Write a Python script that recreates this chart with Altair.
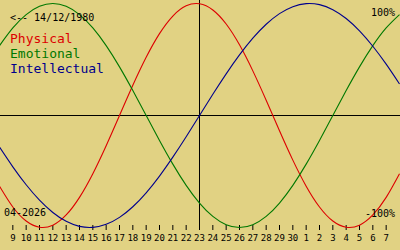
import altair as alt
import pandas as pd

# ---- data -------------------------------------------------------------
series_names = ["Physical", "Emotional", "Intellectual"]
series_colors = ["#dd0000", "#007800", "#00008c"]

# day offsets from the centre day (23) ; -15 = Apr 8 ... 15 = May 8
day_offsets = [-15, -14, -13, -12, -11, -10, -9, -8, -7, -6, -5, -4, -3, -2, -1,
               0, 1, 2, 3, 4, 5, 6, 7, 8, 9, 10, 11, 12, 13, 14, 15]

physical = [-0.6311, -0.8170, -0.9423, -0.9977, -0.9791, -0.8879, -0.7308, -0.5196,
            -0.2698, 0.0, 0.2698, 0.5196, 0.7308, 0.8879, 0.9791, 0.9977, 0.9423,
            0.8170, 0.6311, 0.3984, 0.1362, -0.1362, -0.3984, -0.6311, -0.8170,
            -0.9423, -0.9977, -0.9791, -0.8879, -0.7308, -0.5196]

emotional = [0.6235, 0.7818, 0.9010, 0.9749, 1.0, 0.9749, 0.9010, 0.7818, 0.6235,
             0.4339, 0.2225, 0.0, -0.2225, -0.4339, -0.6235, -0.7818, -0.9010,
             -0.9749, -1.0, -0.9749, -0.9010, -0.7818, -0.6235, -0.4339, -0.2225,
             0.0, 0.2225, 0.4339, 0.6235, 0.7818, 0.9010]

intellectual = [-0.2817, -0.4582, -0.6182, -0.7557, -0.8660, -0.9450, -0.9898,
                -0.9989, -0.9718, -0.9096, -0.8146, -0.6901, -0.5406, -0.3717,
                -0.1893, 0.0, 0.1893, 0.3717, 0.5406, 0.6901, 0.8146, 0.9096,
                0.9718, 0.9989, 0.9898, 0.9450, 0.8660, 0.7557, 0.6182, 0.4582,
                0.2817]

tick_offsets = [-14, -13, -12, -11, -10, -9, -8, -7, -6, -5, -4, -3, -2, -1, 0,
                1, 2, 3, 4, 5, 6, 7, 8, 9, 10, 11, 12, 13, 14]
tick_labels = ["9", "10", "11", "12", "13", "14", "15", "16", "17", "18", "19",
               "20", "21", "22", "23", "24", "25", "26", "27", "28", "29", "30",
               "1", "2", "3", "4", "5", "6", "7"]

birth_text = "<-- 14/12/1980"
month_text = "04-2026"
top_text = "100%"
bottom_text = "-100%"

# ---- tables -------------------------------------------------------------
rows = []
for name, vals in zip(series_names, [physical, emotional, intellectual]):
    for d, v in zip(day_offsets, vals):
        rows.append({"d": d, "v": v, "series": name})
df = pd.DataFrame(rows)
ticks_df = pd.DataFrame({"d": tick_offsets, "label": tick_labels})

BG = "#e1d283"
FONT = "DejaVu Sans Mono"

x_scale = alt.Scale(domain=[-14.9625, 15.0375], nice=False, zero=False)
y_scale = alt.Scale(domain=[-1.20089, 1.03125], nice=False, zero=False)

lines = alt.Chart(df).mark_line(strokeWidth=1.1, interpolate="natural").encode(
    x=alt.X("d:Q", scale=x_scale, axis=None),
    y=alt.Y("v:Q", scale=y_scale, axis=None),
    color=alt.Color("series:N",
                    scale=alt.Scale(domain=series_names, range=series_colors),
                    legend=None),
)

tick_marks = alt.Chart(ticks_df).mark_rule(color="black", strokeWidth=1).encode(
    x=alt.X("d:Q", scale=x_scale, axis=None),
    y=alt.value(225), y2=alt.value(230),
)
tick_text = alt.Chart(ticks_df).mark_text(
    font=FONT, fontSize=9, color="black", align="center", baseline="alphabetic"
).encode(
    x=alt.X("d:Q", scale=x_scale, axis=None),
    y=alt.value(241),
    text="label:N",
)

vrule = alt.Chart(pd.DataFrame({"d": [0]})).mark_rule(color="black", strokeWidth=1).encode(
    x=alt.X("d:Q", scale=x_scale, axis=None), y=alt.value(0), y2=alt.value(230))
hrule = alt.Chart(pd.DataFrame({"v": [0]})).mark_rule(color="black", strokeWidth=1).encode(
    y=alt.Y("v:Q", scale=y_scale, axis=None), x=alt.value(0), x2=alt.value(400))

def txt(t, x, y, size, color="black", align="left"):
    return alt.Chart(pd.DataFrame({"t": [t]})).mark_text(
        font=FONT, fontSize=size, color=color, align=align, baseline="alphabetic"
    ).encode(x=alt.value(x), y=alt.value(y), text="t:N")

texts = [
    txt(birth_text, 10, 21, 10),
    txt(series_names[0], 10, 42.5, 13, series_colors[0]),
    txt(series_names[1], 10, 57.5, 13, series_colors[1]),
    txt(series_names[2], 10, 72.5, 13, series_colors[2]),
    txt(top_text, 395, 16, 10, align="right"),
    txt(bottom_text, 395, 216.5, 10, align="right"),
    txt(month_text, 4, 216, 10),
]

chart = alt.layer(hrule, vrule, tick_marks, tick_text, lines, *texts).properties(
    width=400, height=250,
    autosize=alt.AutoSizeParams(type="none"),
    padding=0,
    background=BG,
).configure_view(strokeWidth=0)

chart.save("out.html", embed_options={"renderer": "svg", "actions": False})
